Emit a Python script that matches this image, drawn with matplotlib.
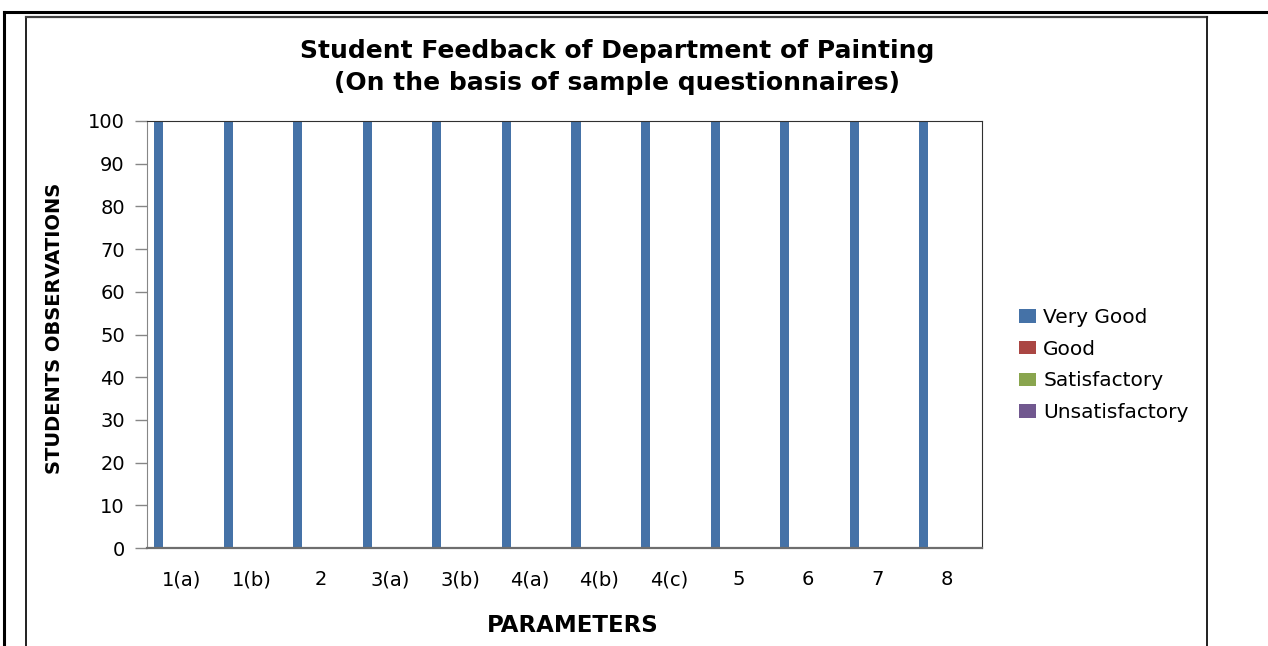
import numpy as np
import matplotlib
matplotlib.use("Agg")
import matplotlib.pyplot as plt
from matplotlib.lines import Line2D

# chart data
parameters = ["1(a)", "1(b)", "2", "3(a)", "3(b)", "4(a)", "4(b)", "4(c)", "5", "6", "7", "8"]
very_good = [100, 100, 100, 100, 100, 100, 100, 100, 100, 100, 100, 100]
good = [0, 0, 0, 0, 0, 0, 0, 0, 0, 0, 0, 0]
satisfactory = [0, 0, 0, 0, 0, 0, 0, 0, 0, 0, 0, 0]
unsatisfactory = [0, 0, 0, 0, 0, 0, 0, 0, 0, 0, 0, 0]

series_names = ["Very Good", "Good", "Satisfactory", "Unsatisfactory"]
colors = ["#4572A7", "#AA4643", "#89A54E", "#71588F"]

plt.rcParams["font.family"] = ["DejaVu Sans"]

fig = plt.figure(figsize=(12.68, 6.46), dpi=100)
ax = fig.add_axes([147 / 1268, 1 - 548 / 646, (982 - 147) / 1268, (548 - 121) / 646])

x = np.arange(len(parameters))
bar_w = 0.13
step = 0.223
handles = []
for j, (vals, name, col) in enumerate(zip([very_good, good, satisfactory, unsatisfactory], series_names, colors)):
    b = ax.bar(x + (j - 1.5) * step, vals, width=bar_w, color=col, linewidth=0, label=name)
    handles.append(b)

ax.set_xlim(-0.5, len(parameters) - 0.5)
ax.set_ylim(0, 100)
ax.set_yticks(range(0, 101, 10))
ax.set_xticks(x)
ax.set_xticklabels(parameters)

ax.tick_params(axis="y", length=9, width=1, color="#868686", labelsize=14, pad=7)
ax.tick_params(axis="x", length=0, labelsize=14, pad=16)

ax.spines["left"].set_color("#868686")
ax.spines["bottom"].set_color("#6e6e6e")
ax.spines["bottom"].set_linewidth(1.6)
ax.spines["top"].set_color("#303030")
ax.spines["right"].set_color("#303030")

fig.text(617 / 1268, 1 - 67 / 646, "Student Feedback of Department of Painting\n(On the basis of sample questionnaires)",
         ha="center", va="center", fontsize=18, fontweight="bold", linespacing=1.45)
fig.text(573 / 1268, 1 - 626 / 646, "PARAMETERS", ha="center", va="center", fontsize=16.5, fontweight="bold")
fig.text(55 / 1268, 1 - 328 / 646, "STUDENTS OBSERVATIONS", ha="center", va="center", rotation=90,
         fontsize=14, fontweight="bold")

leg = fig.legend(handles=handles, labels=series_names, loc="upper left",
                 bbox_to_anchor=(1019 / 1268, 1 - 308 / 646), frameon=False, fontsize=14.5,
                 handlelength=0.85, handleheight=0.65, handletextpad=0.35, labelspacing=0.63,
                 borderpad=0, borderaxespad=0)

# outer frame and chart frame
fig.add_artist(Line2D([4 / 1268, 4 / 1268], [0, 1 - 12 / 646], transform=fig.transFigure, color="black", lw=2.2))
fig.add_artist(Line2D([4 / 1268, 1], [1 - 12 / 646, 1 - 12 / 646], transform=fig.transFigure, color="black", lw=2.2))
fig.add_artist(Line2D([26 / 1268, 26 / 1268], [0, 1 - 17 / 646], transform=fig.transFigure, color="#202020", lw=1.4))
fig.add_artist(Line2D([26 / 1268, 1207 / 1268], [1 - 17 / 646, 1 - 17 / 646], transform=fig.transFigure, color="#404040", lw=1.6))
fig.add_artist(Line2D([1207 / 1268, 1207 / 1268], [0, 1 - 17 / 646], transform=fig.transFigure, color="#202020", lw=1.4))

fig.savefig("out.png", dpi=100)
